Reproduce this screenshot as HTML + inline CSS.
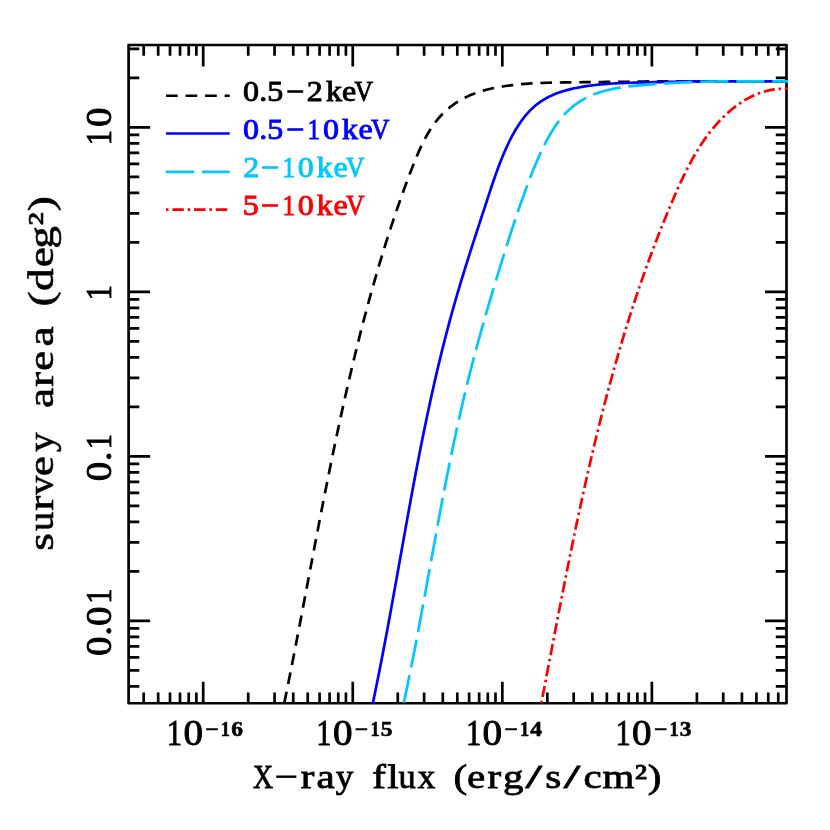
<!DOCTYPE html>
<html><head><meta charset="utf-8"><title>Survey area vs X-ray flux</title>
<style>
html,body{margin:0;padding:0;background:#fff;}
body{width:830px;height:830px;overflow:hidden;}
svg{display:block;will-change:transform;}
text{font-family:"Liberation Serif",serif;}
</style></head><body>
<svg width="830" height="830" viewBox="0 0 830 830">
<rect width="830" height="830" fill="#fff"/>
<g fill="none" stroke="#000" stroke-width="2.7">
<path d="M143.68 703.25V692.55M143.68 45V55.7M158.18 703.25V692.55M158.18 45V55.7M170.02 703.25V692.55M170.02 45V55.7M180.03 703.25V692.55M180.03 45V55.7M188.71 703.25V692.55M188.71 45V55.7M196.36 703.25V692.55M196.36 45V55.7M203.2 703.25V681.75M203.2 45V66.5M248.22 703.25V692.55M248.22 45V55.7M274.56 703.25V692.55M274.56 45V55.7M293.24 703.25V692.55M293.24 45V55.7M307.74 703.25V692.55M307.74 45V55.7M319.58 703.25V692.55M319.58 45V55.7M329.59 703.25V692.55M329.59 45V55.7M338.27 703.25V692.55M338.27 45V55.7M345.92 703.25V692.55M345.92 45V55.7M352.76 703.25V681.75M352.76 45V66.5M397.78 703.25V692.55M397.78 45V55.7M424.12 703.25V692.55M424.12 45V55.7M442.8 703.25V692.55M442.8 45V55.7M457.3 703.25V692.55M457.3 45V55.7M469.14 703.25V692.55M469.14 45V55.7M479.15 703.25V692.55M479.15 45V55.7M487.83 703.25V692.55M487.83 45V55.7M495.48 703.25V692.55M495.48 45V55.7M502.32 703.25V681.75M502.32 45V66.5M547.34 703.25V692.55M547.34 45V55.7M573.68 703.25V692.55M573.68 45V55.7M592.36 703.25V692.55M592.36 45V55.7M606.86 703.25V692.55M606.86 45V55.7M618.7 703.25V692.55M618.7 45V55.7M628.71 703.25V692.55M628.71 45V55.7M637.39 703.25V692.55M637.39 45V55.7M645.04 703.25V692.55M645.04 45V55.7M651.88 703.25V681.75M651.88 45V66.5M696.9 703.25V692.55M696.9 45V55.7M723.24 703.25V692.55M723.24 45V55.7M741.92 703.25V692.55M741.92 45V55.7M756.42 703.25V692.55M756.42 45V55.7M768.26 703.25V692.55M768.26 45V55.7M778.27 703.25V692.55M778.27 45V55.7M128.6 686.36H139.3M786.5 686.36H775.8M128.6 670.42H139.3M786.5 670.42H775.8M128.6 657.39H139.3M786.5 657.39H775.8M128.6 646.38H139.3M786.5 646.38H775.8M128.6 636.84H139.3M786.5 636.84H775.8M128.6 628.43H139.3M786.5 628.43H775.8M128.6 620.9H150.1M786.5 620.9H765M128.6 571.38H139.3M786.5 571.38H775.8M128.6 542.41H139.3M786.5 542.41H775.8M128.6 521.86H139.3M786.5 521.86H775.8M128.6 505.92H139.3M786.5 505.92H775.8M128.6 492.89H139.3M786.5 492.89H775.8M128.6 481.88H139.3M786.5 481.88H775.8M128.6 472.34H139.3M786.5 472.34H775.8M128.6 463.93H139.3M786.5 463.93H775.8M128.6 456.4H150.1M786.5 456.4H765M128.6 406.88H139.3M786.5 406.88H775.8M128.6 377.91H139.3M786.5 377.91H775.8M128.6 357.36H139.3M786.5 357.36H775.8M128.6 341.42H139.3M786.5 341.42H775.8M128.6 328.39H139.3M786.5 328.39H775.8M128.6 317.38H139.3M786.5 317.38H775.8M128.6 307.84H139.3M786.5 307.84H775.8M128.6 299.43H139.3M786.5 299.43H775.8M128.6 291.9H150.1M786.5 291.9H765M128.6 242.38H139.3M786.5 242.38H775.8M128.6 213.41H139.3M786.5 213.41H775.8M128.6 192.86H139.3M786.5 192.86H775.8M128.6 176.92H139.3M786.5 176.92H775.8M128.6 163.89H139.3M786.5 163.89H775.8M128.6 152.88H139.3M786.5 152.88H775.8M128.6 143.34H139.3M786.5 143.34H775.8M128.6 134.93H139.3M786.5 134.93H775.8M128.6 127.4H150.1M786.5 127.4H765M128.6 77.88H139.3M786.5 77.88H775.8M128.6 48.91H139.3M786.5 48.91H775.8"/>
<rect x="128.6" y="45.0" width="657.9" height="658.25" stroke-linejoin="round"/>
</g>
<clipPath id="clip"><rect x="128.1" y="44.5" width="659.8" height="659.35"/></clipPath>
<g fill="none" stroke-width="2.7" stroke-linejoin="round" clip-path="url(#clip)">
<path d="M283.5 706.95L284.3 703.03L284.94 699.89L285.58 696.74L286.22 693.6L286.85 690.45L287.48 687.31L288.11 684.16L288.74 681.01L289.37 677.86L290 674.7L290.62 671.55L291.24 668.4L291.86 665.24L292.48 662.08L293.1 658.93L293.72 655.77L294.33 652.61L294.95 649.45L295.56 646.29L296.17 643.12L296.78 639.96L297.39 636.8L298 633.63L298.61 630.47L299.22 627.3L299.82 624.13L300.43 620.96L301.03 617.8L301.64 614.63L302.24 611.46L302.85 608.29L303.45 605.12L304.05 601.94L304.65 598.77L305.26 595.6L305.86 592.43L306.46 589.25L307.06 586.08L307.67 582.91L308.27 579.73L308.87 576.56L309.47 573.38L310.08 570.2L310.68 567.03L311.28 563.85L311.89 560.68L312.49 557.5L313.1 554.32L313.7 551.15L314.31 547.97L314.92 544.79L315.53 541.62L316.13 538.44L316.74 535.26L317.35 532.09L317.97 528.91L318.58 525.73L319.19 522.56L319.81 519.38L320.43 516.2L321.04 513.03L321.66 509.85L322.28 506.68L322.91 503.5L323.53 500.32L324.16 497.15L324.78 493.98L325.41 490.8L326.04 487.63L326.68 484.45L327.31 481.28L327.95 478.11L328.59 474.94L329.23 471.77L329.87 468.6L330.51 465.43L331.16 462.26L331.81 459.09L332.46 455.92L333.12 452.75L333.78 449.59L334.44 446.42L335.1 443.25L335.76 440.09L336.43 436.93L337.1 433.76L337.78 430.6L338.45 427.44L339.13 424.28L339.81 421.12L340.5 417.96L341.19 414.81L341.88 411.65L342.58 408.5L343.28 405.34L343.98 402.19L344.68 399.04L345.39 395.89L346.11 392.74L346.82 389.59L347.54 386.44L348.27 383.3L348.99 380.16L349.73 377.01L350.46 373.87L351.2 370.73L351.94 367.59L352.69 364.46L353.45 361.32L354.2 358.19L354.96 355.05L355.73 351.92L356.5 348.79L357.27 345.66L358.05 342.54L358.83 339.41L359.62 336.29L360.41 333.17L361.21 330.05L362.01 326.93L362.82 323.81L363.63 320.7L364.45 317.59L365.27 314.48L366.1 311.37L366.93 308.26L367.77 305.16L368.61 302.05L369.46 298.95L370.31 295.85L371.17 292.76L372.04 289.66L372.91 286.57L373.78 283.48L374.67 280.39L375.55 277.31L376.45 274.22L377.35 271.14L378.25 268.06L379.16 264.98L380.08 261.91L381.01 258.84L381.94 255.76L382.87 252.7L383.82 249.63L384.77 246.56L385.73 243.5L386.69 240.43L387.67 237.37L388.65 234.31L389.63 231.25L390.63 228.19L391.64 225.13L392.65 222.07L393.67 219.01L394.7 215.96L395.74 212.9L396.79 209.84L397.84 206.78L398.91 203.72L399.98 200.66L401.07 197.6L402.16 194.54L403.27 191.47L404.39 188.41L405.51 185.35L406.65 182.28L407.79 179.21L408.95 176.14L410.12 173.07L411.3 169.99L412.49 166.92L413.7 163.84L414.93 160.78L416.18 157.72L417.45 154.68L418.76 151.66L420.1 148.67L421.48 145.7L422.91 142.77L424.37 139.87L425.89 137.02L427.47 134.22L429.1 131.46L430.79 128.76L432.55 126.12L434.38 123.55L436.28 121.04L438.26 118.61L440.32 116.26L442.47 113.99L444.7 111.8L447.02 109.7L449.42 107.69L451.9 105.77L454.45 103.93L457.07 102.19L459.76 100.54L462.52 98.98L465.33 97.51L468.2 96.13L471.12 94.85L474.1 93.66L477.12 92.56L480.18 91.56L483.27 90.63L486.4 89.79L489.56 89.01L492.73 88.3L495.93 87.66L499.13 87.07L502.34 86.53L505.56 86.04L508.78 85.59L512 85.18L515.23 84.81L518.46 84.47L521.69 84.17L524.92 83.91L528.16 83.67L531.39 83.46L534.63 83.28L537.87 83.12L541.11 82.99L544.35 82.87L547.6 82.77L550.84 82.69L554.08 82.62L557.32 82.56L560.56 82.5L563.81 82.46L567.05 82.42L570.29 82.38L573.52 82.34L576.76 82.3L580 82.26L583.23 82.22L586.47 82.18L589.7 82.15L592.93 82.11L596.16 82.07L599.39 82.04L602.62 82L605.85 81.96L609.07 81.93L612.3 81.89L615.53 81.86L618.75 81.82L621.98 81.79L625.2 81.76L628.42 81.73L631.64 81.69L634.87 81.65L638.09 81.61L641.31 81.56L644.53 81.52L647.75 81.47L650.97 81.44L654.19 81.4L657.41 81.37L660.63 81.35L663.85 81.33L667.07 81.32L670.29 81.31L673.51 81.3L676.73 81.3L679.95 81.3L683.17 81.3L686.4 81.3L689.62 81.3L692.84 81.3L696.06 81.3L699.28 81.3L702.5 81.3L705.73 81.3L708.95 81.3L712.18 81.3L715.4 81.3L718.63 81.3L721.85 81.3L725.08 81.3L728.31 81.3L731.54 81.3L734.77 81.3L738 81.3L741.23 81.3L744.46 81.3L747.69 81.3L750.93 81.3L754.16 81.3L757.4 81.3L760.64 81.3L763.88 81.3L767.12 81.3L770.36 81.3L773.61 81.3L776.85 81.3L780.1 81.3L783.35 81.3L786.6 81.3L790.6 81.3" stroke="#000" stroke-dasharray="11.6 7.82" stroke-dashoffset="15.4"/>
<path d="M371.99 707.14L372.81 703.23L373.41 700.36L374.02 697.48L374.61 694.61L375.21 691.73L375.8 688.85L376.38 685.97L376.97 683.1L377.55 680.22L378.13 677.33L378.7 674.45L379.27 671.57L379.84 668.69L380.41 665.8L380.97 662.92L381.54 660.03L382.1 657.15L382.65 654.26L383.21 651.37L383.76 648.48L384.31 645.59L384.85 642.7L385.4 639.81L385.94 636.92L386.49 634.03L387.02 631.14L387.56 628.25L388.1 625.35L388.63 622.46L389.17 619.57L389.7 616.67L390.23 613.78L390.76 610.88L391.28 607.99L391.81 605.09L392.34 602.19L392.86 599.3L393.38 596.4L393.9 593.5L394.43 590.61L394.95 587.71L395.47 584.81L395.99 581.91L396.5 579.01L397.02 576.11L397.54 573.22L398.06 570.32L398.58 567.42L399.09 564.52L399.61 561.62L400.13 558.72L400.64 555.82L401.16 552.92L401.68 550.02L402.2 547.12L402.71 544.22L403.23 541.32L403.75 538.42L404.27 535.52L404.79 532.62L405.31 529.72L405.83 526.83L406.35 523.93L406.88 521.03L407.4 518.13L407.93 515.23L408.45 512.33L408.98 509.44L409.51 506.54L410.04 503.64L410.57 500.74L411.1 497.85L411.64 494.95L412.17 492.06L412.71 489.16L413.25 486.26L413.79 483.37L414.33 480.48L414.88 477.58L415.43 474.69L415.98 471.8L416.53 468.9L417.08 466.01L417.64 463.12L418.2 460.23L418.76 457.34L419.32 454.45L419.89 451.56L420.46 448.68L421.03 445.79L421.6 442.9L422.18 440.02L422.76 437.13L423.35 434.25L423.93 431.36L424.52 428.48L425.12 425.6L425.71 422.72L426.32 419.84L426.92 416.96L427.53 414.08L428.14 411.2L428.75 408.32L429.37 405.45L429.99 402.57L430.62 399.7L431.25 396.83L431.89 393.96L432.52 391.09L433.17 388.22L433.81 385.35L434.47 382.48L435.12 379.61L435.78 376.75L436.45 373.88L437.12 371.02L437.79 368.16L438.47 365.3L439.16 362.44L439.85 359.58L440.54 356.73L441.24 353.87L441.95 351.02L442.66 348.16L443.37 345.31L444.09 342.46L444.82 339.61L445.55 336.77L446.29 333.92L447.03 331.08L447.78 328.23L448.53 325.39L449.29 322.55L450.06 319.71L450.83 316.88L451.61 314.04L452.4 311.21L453.19 308.38L453.99 305.55L454.79 302.72L455.6 299.89L456.42 297.07L457.24 294.24L458.07 291.42L458.9 288.6L459.75 285.78L460.59 282.96L461.44 280.15L462.3 277.33L463.16 274.52L464.03 271.71L464.9 268.9L465.77 266.09L466.65 263.28L467.54 260.47L468.42 257.67L469.31 254.86L470.21 252.06L471.1 249.26L472 246.45L472.9 243.65L473.8 240.85L474.71 238.06L475.62 235.26L476.53 232.46L477.44 229.66L478.35 226.87L479.26 224.07L480.18 221.28L481.09 218.49L482 215.69L482.92 212.9L483.83 210.11L484.75 207.32L485.66 204.53L486.58 201.74L487.49 198.95L488.4 196.16L489.32 193.37L490.23 190.58L491.16 187.8L492.09 185.01L493.03 182.23L493.98 179.44L494.95 176.66L495.93 173.88L496.93 171.1L497.95 168.32L498.99 165.55L500.05 162.77L501.14 160L502.25 157.23L503.4 154.46L504.58 151.7L505.78 148.94L507.03 146.19L508.31 143.46L509.63 140.75L510.99 138.06L512.4 135.41L513.85 132.78L515.34 130.2L516.89 127.65L518.48 125.16L520.12 122.71L521.82 120.32L523.58 117.99L525.39 115.73L527.27 113.54L529.2 111.42L531.2 109.38L533.26 107.43L535.4 105.56L537.6 103.79L539.87 102.11L542.21 100.53L544.63 99.06L547.11 97.68L549.65 96.39L552.25 95.19L554.9 94.08L557.6 93.05L560.35 92.09L563.13 91.2L565.95 90.38L568.79 89.63L571.66 88.93L574.56 88.29L577.47 87.7L580.39 87.15L583.32 86.65L586.25 86.19L589.19 85.77L592.13 85.38L595.08 85.03L598.03 84.7L600.98 84.41L603.94 84.15L606.9 83.91L609.86 83.7L612.82 83.51L615.78 83.34L618.75 83.19L621.71 83.06L624.68 82.94L627.64 82.83L630.61 82.74L633.57 82.65L636.53 82.57L639.49 82.5L642.45 82.43L645.4 82.36L648.35 82.29L651.3 82.23L654.25 82.17L657.19 82.1L660.14 82.04L663.08 81.98L666.02 81.93L668.95 81.87L671.89 81.81L674.82 81.75L677.76 81.69L680.69 81.62L683.62 81.56L686.55 81.5L689.48 81.45L692.41 81.41L695.34 81.38L698.26 81.35L701.19 81.33L704.12 81.31L707.05 81.3L709.98 81.3L712.91 81.3L715.83 81.3L718.76 81.3L721.69 81.3L724.63 81.3L727.56 81.3L730.49 81.3L733.43 81.3L736.36 81.3L739.3 81.3L742.24 81.3L745.18 81.3L748.12 81.3L751.07 81.3L754.01 81.3L756.96 81.3L759.92 81.3L762.87 81.3L765.83 81.3L768.79 81.3L771.75 81.3L774.72 81.3L777.69 81.3L780.66 81.3L783.64 81.3L786.62 81.3L790.62 81.3" stroke="#0000ff"/>
<path d="M402.89 707.08L403.73 703.17L404.32 700.41L404.91 697.66L405.5 694.9L406.08 692.14L406.65 689.38L407.23 686.62L407.8 683.86L408.37 681.1L408.93 678.34L409.49 675.57L410.05 672.81L410.61 670.04L411.16 667.28L411.71 664.51L412.26 661.74L412.81 658.98L413.35 656.21L413.89 653.44L414.43 650.67L414.97 647.9L415.5 645.13L416.04 642.36L416.57 639.59L417.1 636.82L417.62 634.05L418.15 631.27L418.67 628.5L419.19 625.73L419.71 622.95L420.23 620.18L420.75 617.4L421.26 614.63L421.78 611.85L422.29 609.08L422.81 606.3L423.32 603.53L423.83 600.75L424.34 597.97L424.85 595.2L425.36 592.42L425.86 589.64L426.37 586.87L426.88 584.09L427.38 581.31L427.89 578.53L428.39 575.76L428.9 572.98L429.41 570.2L429.91 567.42L430.42 564.65L430.92 561.87L431.43 559.09L431.93 556.31L432.44 553.54L432.95 550.76L433.45 547.98L433.96 545.2L434.47 542.43L434.98 539.65L435.49 536.87L436 534.1L436.51 531.32L437.03 528.54L437.54 525.77L438.06 522.99L438.57 520.22L439.09 517.44L439.61 514.67L440.13 511.89L440.65 509.12L441.17 506.34L441.7 503.57L442.23 500.8L442.76 498.02L443.29 495.25L443.82 492.48L444.35 489.71L444.89 486.94L445.43 484.17L445.97 481.4L446.52 478.63L447.06 475.86L447.61 473.09L448.16 470.33L448.72 467.56L449.28 464.79L449.84 462.03L450.4 459.26L450.96 456.5L451.53 453.74L452.1 450.97L452.68 448.21L453.26 445.45L453.84 442.69L454.42 439.93L455.01 437.17L455.6 434.41L456.2 431.66L456.8 428.9L457.4 426.15L458.01 423.39L458.62 420.64L459.24 417.89L459.85 415.13L460.48 412.38L461.1 409.63L461.74 406.89L462.37 404.14L463.01 401.39L463.66 398.65L464.31 395.9L464.96 393.16L465.62 390.42L466.29 387.68L466.96 384.94L467.63 382.2L468.31 379.46L468.99 376.72L469.68 373.99L470.38 371.26L471.07 368.52L471.78 365.79L472.49 363.06L473.2 360.33L473.92 357.6L474.64 354.88L475.37 352.15L476.1 349.43L476.83 346.7L477.57 343.98L478.32 341.26L479.06 338.54L479.82 335.82L480.57 333.1L481.33 330.39L482.1 327.67L482.86 324.96L483.63 322.24L484.41 319.53L485.19 316.82L485.97 314.11L486.75 311.4L487.54 308.69L488.33 305.98L489.13 303.28L489.93 300.57L490.73 297.87L491.53 295.16L492.34 292.46L493.15 289.76L493.96 287.06L494.78 284.36L495.6 281.66L496.42 278.96L497.24 276.26L498.06 273.57L498.89 270.87L499.72 268.18L500.55 265.48L501.39 262.79L502.23 260.1L503.06 257.41L503.9 254.72L504.75 252.03L505.59 249.34L506.44 246.65L507.28 243.97L508.14 241.28L508.99 238.6L509.85 235.92L510.71 233.24L511.58 230.56L512.45 227.89L513.33 225.22L514.22 222.55L515.11 219.89L516.01 217.23L516.92 214.57L517.83 211.91L518.75 209.26L519.68 206.61L520.61 203.97L521.55 201.32L522.48 198.68L523.43 196.03L524.37 193.39L525.33 190.75L526.29 188.11L527.25 185.47L528.23 182.84L529.22 180.21L530.22 177.58L531.24 174.96L532.27 172.34L533.31 169.73L534.38 167.12L535.46 164.51L536.56 161.92L537.69 159.33L538.83 156.74L540 154.16L541.2 151.59L542.42 149.03L543.67 146.48L544.95 143.93L546.26 141.4L547.6 138.88L548.98 136.37L550.4 133.89L551.86 131.44L553.37 129.01L554.92 126.63L556.52 124.29L558.18 121.99L559.9 119.75L561.67 117.57L563.51 115.44L565.41 113.39L567.38 111.4L569.42 109.49L571.52 107.66L573.68 105.9L575.89 104.22L578.17 102.62L580.49 101.11L582.86 99.68L585.28 98.33L587.75 97.08L590.26 95.91L592.8 94.83L595.38 93.82L598 92.89L600.65 92.03L603.33 91.24L606.04 90.51L608.77 89.83L611.53 89.22L614.3 88.66L617.1 88.14L619.91 87.67L622.73 87.24L625.57 86.85L628.42 86.49L631.27 86.16L634.12 85.85L636.98 85.56L639.84 85.3L642.7 85.04L645.55 84.8L648.4 84.57L651.24 84.35L654.08 84.14L656.92 83.93L659.75 83.74L662.58 83.56L665.41 83.38L668.23 83.21L671.05 83.06L673.87 82.91L676.69 82.77L679.5 82.63L682.31 82.51L685.12 82.39L687.93 82.28L690.74 82.18L693.54 82.08L696.35 81.99L699.15 81.91L701.95 81.83L704.76 81.76L707.56 81.69L710.36 81.62L713.16 81.56L715.96 81.5L718.76 81.45L721.57 81.41L724.37 81.37L727.17 81.34L729.98 81.32L732.79 81.31L735.59 81.3L738.4 81.3L741.21 81.3L744.03 81.3L746.84 81.3L749.66 81.3L752.48 81.3L755.31 81.3L758.13 81.3L760.96 81.3L763.79 81.3L766.63 81.3L769.47 81.3L772.31 81.3L775.16 81.3L778.01 81.3L780.87 81.3L783.73 81.3L786.6 81.3L790.6 81.3" stroke="#00c8ff" stroke-dasharray="28.2 7.83" stroke-dashoffset="31.6"/>
<path d="M540.5 707.26L541.26 703.33L541.7 701.06L542.14 698.8L542.58 696.53L543.02 694.26L543.46 691.99L543.89 689.73L544.33 687.46L544.77 685.19L545.21 682.92L545.64 680.66L546.08 678.39L546.52 676.12L546.95 673.85L547.39 671.58L547.82 669.32L548.26 667.05L548.7 664.78L549.13 662.51L549.57 660.24L550 657.97L550.44 655.71L550.87 653.44L551.31 651.17L551.75 648.9L552.18 646.63L552.62 644.36L553.06 642.09L553.49 639.83L553.93 637.56L554.37 635.29L554.8 633.02L555.24 630.75L555.68 628.48L556.12 626.21L556.56 623.95L556.99 621.68L557.43 619.41L557.87 617.14L558.31 614.87L558.75 612.61L559.19 610.34L559.64 608.07L560.08 605.8L560.52 603.54L560.96 601.27L561.41 599L561.85 596.73L562.3 594.47L562.74 592.2L563.19 589.93L563.63 587.67L564.08 585.4L564.53 583.13L564.98 580.87L565.43 578.6L565.88 576.34L566.33 574.07L566.78 571.81L567.24 569.54L567.69 567.28L568.15 565.01L568.6 562.75L569.06 560.48L569.52 558.22L569.98 555.96L570.44 553.69L570.9 551.43L571.36 549.17L571.82 546.9L572.29 544.64L572.75 542.38L573.22 540.12L573.69 537.86L574.16 535.6L574.63 533.34L575.1 531.08L575.57 528.82L576.05 526.56L576.52 524.3L577 522.04L577.48 519.78L577.96 517.52L578.44 515.26L578.92 513.01L579.41 510.75L579.89 508.49L580.38 506.24L580.87 503.98L581.36 501.73L581.85 499.47L582.34 497.22L582.84 494.96L583.33 492.71L583.83 490.45L584.33 488.2L584.83 485.95L585.34 483.7L585.84 481.45L586.35 479.19L586.86 476.94L587.37 474.69L587.88 472.44L588.39 470.2L588.91 467.95L589.43 465.7L589.95 463.45L590.47 461.21L590.99 458.96L591.52 456.71L592.05 454.47L592.58 452.22L593.11 449.98L593.64 447.74L594.18 445.49L594.72 443.25L595.26 441.01L595.8 438.77L596.35 436.53L596.89 434.29L597.44 432.05L598 429.81L598.55 427.57L599.11 425.33L599.66 423.1L600.23 420.86L600.79 418.62L601.35 416.39L601.92 414.15L602.49 411.92L603.07 409.69L603.64 407.46L604.22 405.22L604.8 402.99L605.38 400.76L605.97 398.53L606.56 396.31L607.15 394.08L607.74 391.85L608.34 389.62L608.94 387.4L609.54 385.17L610.15 382.95L610.75 380.73L611.36 378.5L611.98 376.28L612.59 374.06L613.21 371.84L613.83 369.62L614.46 367.4L615.08 365.18L615.71 362.97L616.35 360.75L616.98 358.54L617.62 356.32L618.27 354.11L618.91 351.89L619.56 349.68L620.21 347.47L620.87 345.26L621.52 343.05L622.18 340.84L622.85 338.64L623.52 336.43L624.19 334.22L624.86 332.02L625.54 329.81L626.22 327.61L626.9 325.41L627.59 323.21L628.28 321.01L628.97 318.81L629.67 316.61L630.37 314.41L631.08 312.22L631.79 310.02L632.5 307.83L633.21 305.63L633.93 303.44L634.65 301.25L635.38 299.06L636.11 296.87L636.84 294.68L637.58 292.49L638.32 290.31L639.06 288.12L639.81 285.94L640.56 283.75L641.32 281.57L642.07 279.39L642.84 277.21L643.6 275.03L644.37 272.86L645.15 270.68L645.93 268.5L646.71 266.33L647.5 264.16L648.29 261.98L649.08 259.81L649.88 257.64L650.68 255.47L651.49 253.31L652.3 251.14L653.11 248.97L653.93 246.81L654.76 244.65L655.58 242.48L656.41 240.32L657.25 238.16L658.09 236.01L658.93 233.85L659.78 231.69L660.63 229.54L661.49 227.39L662.35 225.23L663.22 223.08L664.09 220.93L664.96 218.78L665.84 216.64L666.73 214.49L667.61 212.35L668.51 210.2L669.4 208.06L670.31 205.92L671.21 203.78L672.12 201.64L673.04 199.51L673.96 197.37L674.89 195.24L675.82 193.11L676.75 190.98L677.7 188.85L678.65 186.73L679.61 184.61L680.58 182.5L681.56 180.4L682.55 178.3L683.55 176.2L684.56 174.12L685.58 172.04L686.61 169.97L687.66 167.91L688.72 165.85L689.79 163.81L690.88 161.78L691.98 159.76L693.1 157.75L694.24 155.75L695.39 153.76L696.56 151.79L697.75 149.83L698.95 147.88L700.18 145.95L701.42 144.04L702.69 142.14L703.98 140.25L705.29 138.38L706.62 136.53L707.97 134.7L709.35 132.89L710.75 131.09L712.17 129.32L713.62 127.56L715.1 125.82L716.6 124.11L718.13 122.41L719.69 120.74L721.27 119.09L722.88 117.47L724.53 115.87L726.2 114.29L727.9 112.74L729.63 111.22L731.39 109.73L733.17 108.27L734.99 106.85L736.83 105.47L738.71 104.13L740.61 102.83L742.54 101.57L744.49 100.36L746.48 99.19L748.49 98.08L750.53 97.02L752.6 96.01L754.69 95.06L756.82 94.16L758.97 93.33L761.14 92.55L763.35 91.85L765.58 91.2L767.84 90.63L770.12 90.12L772.43 89.69L774.77 89.33L777.13 89.05L779.52 88.85L781.93 88.73L784.37 88.69L786.84 88.73L790.84 88.8" stroke="#ff0000" stroke-dasharray="2.46 3.78 11.3 3.78" stroke-dashoffset="17.2"/>
</g>
<g fill="none" stroke-width="2.7">
<path d="M166 95.75H229.7" stroke="#000" stroke-dasharray="11.7 7.85"/>
<path d="M166 133.5H229.7" stroke="#0000ff"/>
<path d="M166 171.8H229.7" stroke="#00c8ff" stroke-dasharray="28.2 7.85"/>
<path d="M166 209.6H229.7" stroke="#ff0000" stroke-dasharray="2.5 3.85 11.5 3.85"/>
</g>
<g font-size="28.6" stroke-width="0.9" transform="scale(1.12 1)">
<text x="217 231.5 238.6 255.3 274 291.1 305.4 316.6" y="101.2" fill="#000" stroke="#000">0.5−2ke<tspan textLength="16.52" lengthAdjust="spacingAndGlyphs">V</tspan></text>
<text x="217 231.5 238.6 255.3 274.5 288.3 305.3 320 331.2" y="139.5" fill="#0000ff" stroke="#0000ff">0.5−<tspan textLength="11.15" lengthAdjust="spacingAndGlyphs">1</tspan>0ke<tspan textLength="16.52" lengthAdjust="spacingAndGlyphs">V</tspan></text>
<text x="217.2 232.9 252.3 265.9 282.8 297.7 308.9" y="177.4" fill="#00c8ff" stroke="#00c8ff">2−<tspan textLength="11.15" lengthAdjust="spacingAndGlyphs">1</tspan>0ke<tspan textLength="16.52" lengthAdjust="spacingAndGlyphs">V</tspan></text>
<text x="216.8 232.9 252.3 265.9 282.8 297.7 308.9" y="215.3" fill="#ff0000" stroke="#ff0000">5−<tspan textLength="11.15" lengthAdjust="spacingAndGlyphs">1</tspan>0ke<tspan textLength="16.52" lengthAdjust="spacingAndGlyphs">V</tspan></text>
</g>
<g font-size="34.9" fill="#000" stroke="#000" stroke-width="0.85">
<text y="745" transform="scale(1.12 1)"><tspan x="148.9 163.8"><tspan textLength="13.61" lengthAdjust="spacingAndGlyphs">1</tspan>0</tspan><tspan font-size="21.0" font-weight="bold" stroke-width="0.6" y="735.7" x="183.3 197.2 206.4">−<tspan textLength="8.19" lengthAdjust="spacingAndGlyphs">1</tspan>6</tspan></text>
<text y="745" transform="scale(1.12 1)"><tspan x="282.4 297.4"><tspan textLength="13.61" lengthAdjust="spacingAndGlyphs">1</tspan>0</tspan><tspan font-size="21.0" font-weight="bold" stroke-width="0.6" y="735.7" x="316.8 330.7 339.9">−<tspan textLength="8.19" lengthAdjust="spacingAndGlyphs">1</tspan>5</tspan></text>
<text y="745" transform="scale(1.12 1)"><tspan x="416 430.9"><tspan textLength="13.61" lengthAdjust="spacingAndGlyphs">1</tspan>0</tspan><tspan font-size="21.0" font-weight="bold" stroke-width="0.6" y="735.7" x="450.4 464.3 473.5">−<tspan textLength="8.19" lengthAdjust="spacingAndGlyphs">1</tspan>4</tspan></text>
<text y="745" transform="scale(1.12 1)"><tspan x="549.5 564.4"><tspan textLength="13.61" lengthAdjust="spacingAndGlyphs">1</tspan>0</tspan><tspan font-size="21.0" font-weight="bold" stroke-width="0.6" y="735.7" x="583.9 597.8 607">−<tspan textLength="8.19" lengthAdjust="spacingAndGlyphs">1</tspan>3</tspan></text>
<text transform="translate(111.1 0) rotate(-90) scale(1.12 1)" x="-129.7 -113.5" y="0"><tspan textLength="13.61" lengthAdjust="spacingAndGlyphs">1</tspan>0</text>
<text transform="translate(111.1 0) rotate(-90) scale(1.12 1)" x="-268" y="0"><tspan textLength="13.61" lengthAdjust="spacingAndGlyphs">1</tspan></text>
<text transform="translate(111.1 0) rotate(-90) scale(1.12 1)" x="-429.6 -411.9 -401.2" y="0">0.<tspan textLength="13.61" lengthAdjust="spacingAndGlyphs">1</tspan></text>
<text transform="translate(111.1 0) rotate(-90) scale(1.12 1)" x="-585.7 -567.6 -559 -539" y="0">0.0<tspan textLength="13.61" lengthAdjust="spacingAndGlyphs">1</tspan></text>
</g>
<g fill="#000" stroke="#000" stroke-width="0.8">
<text font-size="34.3" y="788.2" transform="scale(1.194 1)" x="211.8 230 251.8 265 281.1 295.9 311.8 324.3 333.8 349.9 364.7 379.8 391.2 408.2 421.2 440.1 456.7 472.2 488.6 504.7 531.6 542.5"><tspan textLength="16.84" lengthAdjust="spacingAndGlyphs">X</tspan>−ra<tspan textLength="14.75" lengthAdjust="spacingAndGlyphs">y</tspan> fl<tspan textLength="14.41" lengthAdjust="spacingAndGlyphs">u</tspan><tspan textLength="14.75" lengthAdjust="spacingAndGlyphs">x</tspan> (erg<tspan textLength="13.82" lengthAdjust="spacingAndGlyphs">/</tspan>s<tspan textLength="13.82" lengthAdjust="spacingAndGlyphs">/</tspan>cm²)</text>
<text font-size="36.5" transform="translate(53.4 0) rotate(-90) scale(1.245 1)" stroke-width="0.6" y="0" x="-442.3 -426.6 -410.3 -397.4 -382.5 -363.1 -347.4 -327.8 -310.8 -297.9 -278.4 -262.2 -246.1 -233.7 -214.7 -199.8 -181.4 -169.6">s<tspan textLength="15.33" lengthAdjust="spacingAndGlyphs">u</tspan>r<tspan textLength="15.33" lengthAdjust="spacingAndGlyphs">v</tspan>e<tspan textLength="15.70" lengthAdjust="spacingAndGlyphs">y</tspan> area (deg²)</text>
</g>
</svg>
</body></html>
